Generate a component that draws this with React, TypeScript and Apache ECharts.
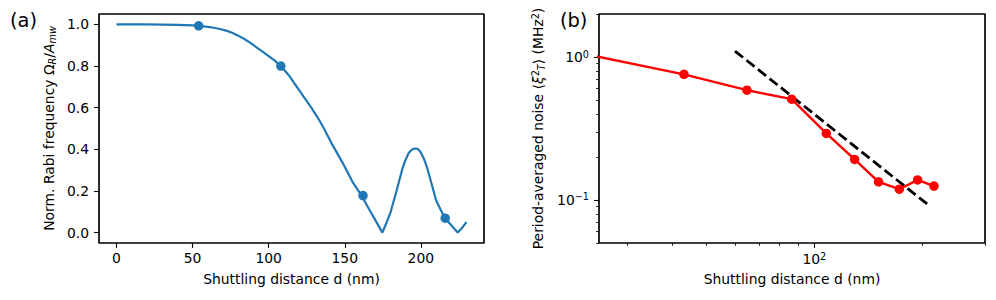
import React, { useEffect, useRef } from 'react';
import * as echarts from 'echarts';

const FONT = 'DejaVu Sans';
const FS = 13.9;
const SUP = 9.7;

// ---- Panel (a): normalized Rabi frequency vs shuttling distance ----
const distA = [0, 10, 20, 30, 40, 50, 54, 60, 64, 68, 72, 76, 80, 84, 88, 92, 96, 100, 104, 108, 111, 114, 117, 120, 124, 128, 132, 136, 142, 149, 155, 161, 166, 170, 174.7, 177, 180, 184, 188, 190, 192, 194, 196, 198, 200, 202, 204, 207, 210, 213, 216, 220, 224.2, 227, 230];
const rabiA = [1.0, 1.0, 1.0, 0.999, 0.998, 0.995, 0.993, 0.988, 0.984, 0.978, 0.97, 0.96, 0.946, 0.93, 0.911, 0.89, 0.869, 0.848, 0.826, 0.799, 0.775, 0.748, 0.716, 0.684, 0.642, 0.6, 0.555, 0.505, 0.42, 0.33, 0.245, 0.178, 0.112, 0.061, 0.0, 0.04, 0.095, 0.2, 0.31, 0.35, 0.382, 0.398, 0.404, 0.402, 0.385, 0.355, 0.315, 0.236, 0.155, 0.11, 0.069, 0.035, 0.0, 0.022, 0.05];
const markerDistA = [54, 108, 162, 216];
const markerRabiA = [0.993, 0.8, 0.178, 0.069];
const xTicksA = [0, 50, 100, 150, 200];
const yTicksA = [0, 0.2, 0.4, 0.6, 0.8, 1.0];
const xRangeA = [-11.5, 241.5];
const yRangeA = [-0.05, 1.05];

// ---- Panel (b): period-averaged noise vs shuttling distance (log-log) ----
const distB = [21.6, 43.2, 64.8, 86.4, 108, 129.6, 151.2, 172.8, 194.4, 216];
const noiseB = [1.08, 0.757, 0.586, 0.507, 0.292, 0.192, 0.134, 0.119, 0.138, 0.125];
const fitDistB = [60, 211];
const fitNoiseB = [1.1, 0.09];
const xMajorB = [100];
const xMinorB = [30, 40, 50, 60, 70, 80, 90, 200, 300];
const yMajorB = [0.1, 1];
const yMinorB = [0.05, 0.06, 0.07, 0.08, 0.09, 0.2, 0.3, 0.4, 0.5, 0.6, 0.7, 0.8, 0.9, 2];
const xRangeB = [25, 300];
const yRangeB = [0.05, 2];

const BLUE = '#1f77b4';
const RED = '#ff0000';

const tickRich = {
  b: { fontSize: FS, fontFamily: FONT, color: '#000', lineHeight: 16 },
  s: { fontSize: SUP, fontFamily: FONT, color: '#000', lineHeight: 9.6, verticalAlign: 'top' },
};

const nameStyle = (rich: any) => ({
  fontSize: FS,
  fontFamily: FONT,
  color: '#000',
  lineHeight: 16,
  rich,
});

const nameRich = {
  it: { fontSize: FS, fontFamily: FONT, color: '#000', fontStyle: 'italic', lineHeight: 16 },
  n: { fontSize: FS, fontFamily: FONT, color: '#000', lineHeight: 16 },
  sub: { fontSize: SUP, fontFamily: FONT, color: '#000', fontStyle: 'italic', lineHeight: 10, verticalAlign: 'bottom' },
  sup: { fontSize: SUP, fontFamily: FONT, color: '#000', lineHeight: 10, verticalAlign: 'top' },
};

const expLabel = (v: number) => {
  const e = Math.round(Math.log10(v));
  const s = e < 0 ? '\u2212' + String(-e) : String(e);
  return '{b|10}{s|' + s + '}';
};

const noLine = () => ({ show: false, onZero: false });

const majorTick = (vals: number[]) => ({
  show: true,
  customValues: vals,
  length: 4.9,
  lineStyle: { color: '#000', width: 1.1 },
});
const minorTick = (vals: number[]) => ({
  show: true,
  customValues: vals,
  length: 2.8,
  lineStyle: { color: '#000', width: 0.85 },
});
const plainLabel = {
  fontSize: FS,
  fontFamily: FONT,
  color: '#000',
};

// rectangular frame drawn along the axis bounds
const frameSeries = (xi: number, yi: number, xr: number[], yr: number[]) => ({
  type: 'line', xAxisIndex: xi, yAxisIndex: yi,
  data: [[xr[0], yr[0]], [xr[0], yr[1]], [xr[1], yr[1]], [xr[1], yr[0]], [xr[0], yr[0]]],
  showSymbol: false, clip: false,
  lineStyle: { color: '#000', width: 1.2 },
});

export default function App() {
  const ref = useRef<HTMLDivElement>(null);
  useEffect(() => {
    if (!ref.current) return;
    const chart = echarts.init(ref.current, undefined, { renderer: 'svg' });
    const option: any = {
      animation: false,
      title: [
        { text: '(a)', left: 10, top: 11, padding: 0, textStyle: { fontSize: 19.4, fontWeight: 'normal', fontFamily: FONT, color: '#000' } },
        { text: '(b)', left: 560, top: 11, padding: 0, textStyle: { fontSize: 19.4, fontWeight: 'normal', fontFamily: FONT, color: '#000' } },
      ],
      grid: [
        { left: 99, top: 14, width: 385, height: 229, show: true, borderColor: '#000', borderWidth: 1.2 },
        { left: 599, top: 14, width: 386, height: 229, show: true, borderColor: '#000', borderWidth: 1.2 },
      ],
      xAxis: [
        {
          gridIndex: 0, type: 'value', min: xRangeA[0], max: xRangeA[1], position: 'bottom',
          axisLine: noLine(), splitLine: { show: false },
          axisTick: majorTick(xTicksA),
          axisLabel: { ...plainLabel, customValues: xTicksA, margin: 8 },
          name: 'Shuttling distance d (nm)', nameLocation: 'middle', nameGap: 28,
          nameTextStyle: nameStyle({}),
        },
        {
          gridIndex: 1, type: 'log', logBase: 10, min: xRangeB[0], max: xRangeB[1], position: 'bottom',
          axisLine: noLine(), splitLine: { show: false },
          axisTick: majorTick(xMajorB),
          axisLabel: { customValues: xMajorB, margin: 8, formatter: (v: number) => expLabel(v), rich: tickRich },
          name: 'Shuttling distance d (nm)', nameLocation: 'middle', nameGap: 28,
          nameTextStyle: nameStyle({}),
        },
        {
          gridIndex: 1, type: 'log', logBase: 10, min: xRangeB[0], max: xRangeB[1], position: 'bottom',
          axisLine: noLine(), splitLine: { show: false },
          axisTick: minorTick(xMinorB),
          axisLabel: { show: false },
        },
      ],
      yAxis: [
        {
          gridIndex: 0, type: 'value', min: yRangeA[0], max: yRangeA[1], position: 'left',
          axisLine: noLine(), splitLine: { show: false },
          axisTick: majorTick(yTicksA),
          axisLabel: { ...plainLabel, customValues: yTicksA, margin: 10, formatter: (v: number) => v.toFixed(1) },
          name: 'Norm. Rabi frequency \u03A9{sub|R}{n|/}{it|A}{sub|mw}', nameLocation: 'middle', nameGap: 42,
          nameTextStyle: nameStyle(nameRich),
        },
        {
          gridIndex: 1, type: 'log', logBase: 10, min: yRangeB[0], max: yRangeB[1], position: 'left',
          axisLine: noLine(), splitLine: { show: false },
          axisTick: majorTick(yMajorB),
          axisLabel: { customValues: yMajorB, margin: 10, formatter: (v: number) => expLabel(v), rich: tickRich },
          name: 'Period-averaged noise \u27E8{it|\u03BE}{sup|2}{sub|T}{n|\u27E9 (MHz}{sup|2}{n|)}', nameLocation: 'middle', nameGap: 53,
          nameTextStyle: nameStyle(nameRich),
        },
        {
          gridIndex: 1, type: 'log', logBase: 10, min: yRangeB[0], max: yRangeB[1], position: 'left',
          axisLine: noLine(), splitLine: { show: false },
          axisTick: minorTick(yMinorB),
          axisLabel: { show: false },
        },
      ],
      series: [
        frameSeries(0, 0, xRangeA, yRangeA),
        frameSeries(1, 1, xRangeB, yRangeB),
        {
          type: 'line', xAxisIndex: 0, yAxisIndex: 0,
          data: distA.map((d, i) => [d, rabiA[i]]),
          showSymbol: false, smooth: false,
          lineStyle: { color: BLUE, width: 2.2 }, itemStyle: { color: BLUE },
        },
        {
          type: 'scatter', xAxisIndex: 0, yAxisIndex: 0,
          data: markerDistA.map((d, i) => [d, markerRabiA[i]]),
          symbol: 'circle', symbolSize: 9.5,
          itemStyle: { color: BLUE, opacity: 1 },
        },
        {
          type: 'line', xAxisIndex: 1, yAxisIndex: 1,
          data: distB.map((d, i) => [d, noiseB[i]]),
          symbol: 'circle', symbolSize: 9.5, showSymbol: true, clip: true,
          lineStyle: { color: RED, width: 2.4 }, itemStyle: { color: RED, opacity: 1 },
        },
        {
          type: 'line', xAxisIndex: 1, yAxisIndex: 1,
          data: fitDistB.map((d, i) => [d, fitNoiseB[i]]),
          showSymbol: false,
          lineStyle: { color: '#000', width: 2.8, type: [10.3, 4.4] },
        },
      ],
    };
    chart.setOption(option);
    return () => chart.dispose();
  }, []);
  return <div ref={ref} style={{ position: 'absolute', left: 0, top: 0, width: 996, height: 300, background: '#fff' }} />;
}
